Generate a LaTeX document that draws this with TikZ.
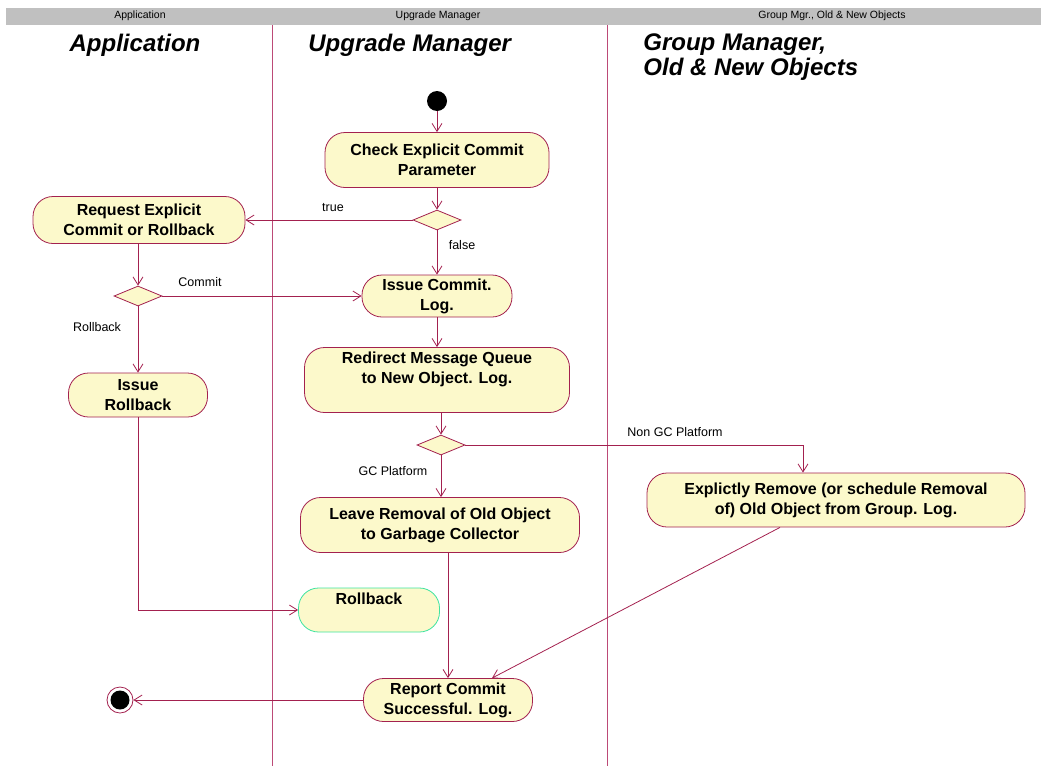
\documentclass[tikz,border=0pt]{standalone}
\usepackage{fontspec}
\setmainfont{Liberation Sans}
\usetikzlibrary{arrows.meta,shapes.geometric}
\definecolor{umlred}{HTML}{A3214F}
\definecolor{lanered}{HTML}{BC4A77}
\definecolor{umlyellow}{HTML}{FCF9CB}
\definecolor{umlgreen}{HTML}{3EE3A0}
\definecolor{headgray}{HTML}{C0C0C0}
\tikzstyle{activity}=[rectangle, rounded corners=20pt, draw=umlred, fill=umlyellow, align=center, inner sep=0pt, font=\fontsize{16}{20}\selectfont\bfseries]
\tikzstyle{acttext}=[align=center, inner sep=0pt, font=\fontsize{16}{20}\selectfont\bfseries]
\tikzstyle{decision}=[diamond, draw=umlred, fill=umlyellow, minimum width=48pt, minimum height=20pt, inner sep=0pt]
\tikzstyle{initial}=[circle, fill=black, minimum size=20pt, inner sep=0pt]
\tikzstyle{final}=[circle, draw=umlred, fill=white, minimum size=26pt, inner sep=0pt, path picture={\fill[black] (path picture bounding box.center) circle (9.5pt);}]
\tikzstyle{guard}=[inner sep=0pt, font=\fontsize{12.5}{14}\selectfont]
\tikzstyle{lanetitle}=[inner sep=0pt, align=left, font=\fontsize{24}{25}\selectfont\bfseries\itshape]
\tikzstyle{lanehead}=[inner sep=0pt, font=\fontsize{10.5}{12}\selectfont]
\tikzstyle{flow}=[draw=umlred, -{Straight Barb[length=8pt,width=10pt]}]

\begin{document}
\begin{tikzpicture}[x=1pt, y=-1pt, thick]
			\useasboundingbox (0,0) rectangle (1041,766);
			% swimlanes
			\fill[headgray] (6,8) rectangle (1041,25);
			\node[lanehead] (hdapp) at (140,16) {Application};
			\node[lanehead] (hdupg) at (438,16) {Upgrade Manager};
			\node[lanehead] (hdgrp) at (832,16) {Group Mgr., Old \& New Objects};
			\draw[lanered, line width=0.9pt] (272,25) -- (272,766);
			\draw[lanered, line width=0.9pt] (607,25) -- (607,766);
			\node[lanetitle] (ttapp) at (135,45) {Application};
			\node[lanetitle, anchor=west] (ttupg) at (308,45) {Upgrade Manager};
			\node[lanetitle, anchor=west] (ttgrp) at (643,57) {Group Manager,\\Old \& New Objects};
			% nodes
			\node[initial] (start) at (437,101) {};
			\node[activity, minimum width=224pt, minimum height=55pt] (check) at (437,160) {Check Explicit Commit\\Parameter};
			\node[decision] (dec1) at (437,220) {};
			\node[activity, minimum width=212pt, minimum height=47pt] (request) at (139,220) {Request Explicit\\Commit or Rollback};
			\node[decision] (dec2) at (138,296) {};
			\node[activity, minimum width=150pt, minimum height=42pt] (issuecommit) at (437,296) {Issue Commit.\\Log.};
			\node[activity, minimum width=139pt, minimum height=44pt] (issuerollback) at (138,395) {Issue\\Rollback};
			\node[activity, minimum width=265pt, minimum height=65pt] (redirect) at (437,380) {};
			\node[acttext] (redirecttext) at (437,369) {Redirect Message Queue\\to New Object. Log.};
			\node[decision] (dec3) at (441,445) {};
			\node[activity, minimum width=279pt, minimum height=55pt] (leave) at (440,525) {Leave Removal of Old Object\\to Garbage Collector};
			\node[activity, minimum width=378pt, minimum height=54pt] (explicit) at (836,500) {Explictly Remove (or schedule Removal\\of) Old Object from Group. Log.};
			\node[activity, draw=umlgreen, minimum width=141pt, minimum height=44pt] (rollback) at (369,610) {};
			\node[acttext] (rollbacktext) at (369,599) {Rollback};
			\node[activity, minimum width=169pt, minimum height=43pt] (report) at (448,700) {Report Commit\\Successful. Log.};
			\node[final] (end) at (120,700) {};
			\coordinate (nongc) at (803,445);
			% guards
			\node[guard] (gtrue) at (333,208) {true};
			\node[guard] (gfalse) at (462,245) {false};
			\node[guard] (gcommit) at (200,282) {Commit};
			\node[guard] (grollback) at (97,327) {Rollback};
			\node[guard] (ggc) at (393,471) {GC Platform};
			\node[guard] (gnongc) at (675,432) {Non GC Platform};
			% flows
			\draw[flow] (start) -- (check);
			\draw[flow] (check) -- (dec1);
			\draw[flow] (dec1) -- (request);
			\draw[flow] (dec1) -- (issuecommit);
			\draw[flow] (request.south -| dec2.north) -- (dec2.north);
			\draw[flow] (dec2) -- (issuecommit);
			\draw[flow] (dec2) -- (issuerollback);
			\draw[flow] (issuecommit) -- (redirect);
			\draw[flow] (redirect.south -| dec3.north) -- (dec3.north);
			\draw[flow] (dec3.south) -- (dec3.south |- leave.north);
			\draw[flow] (dec3.east) -- (nongc) -- (nongc |- explicit.north);
			\draw[flow] (issuerollback.south) |- (rollback.west);
			\draw[flow] (report.north |- leave.south) -- (report.north);
			\draw[flow] ([xshift=-56pt]explicit.south) -- ([xshift=44pt]report.north);
			\draw[flow] (report.west) -- (end);
		\end{tikzpicture}
\end{document}
